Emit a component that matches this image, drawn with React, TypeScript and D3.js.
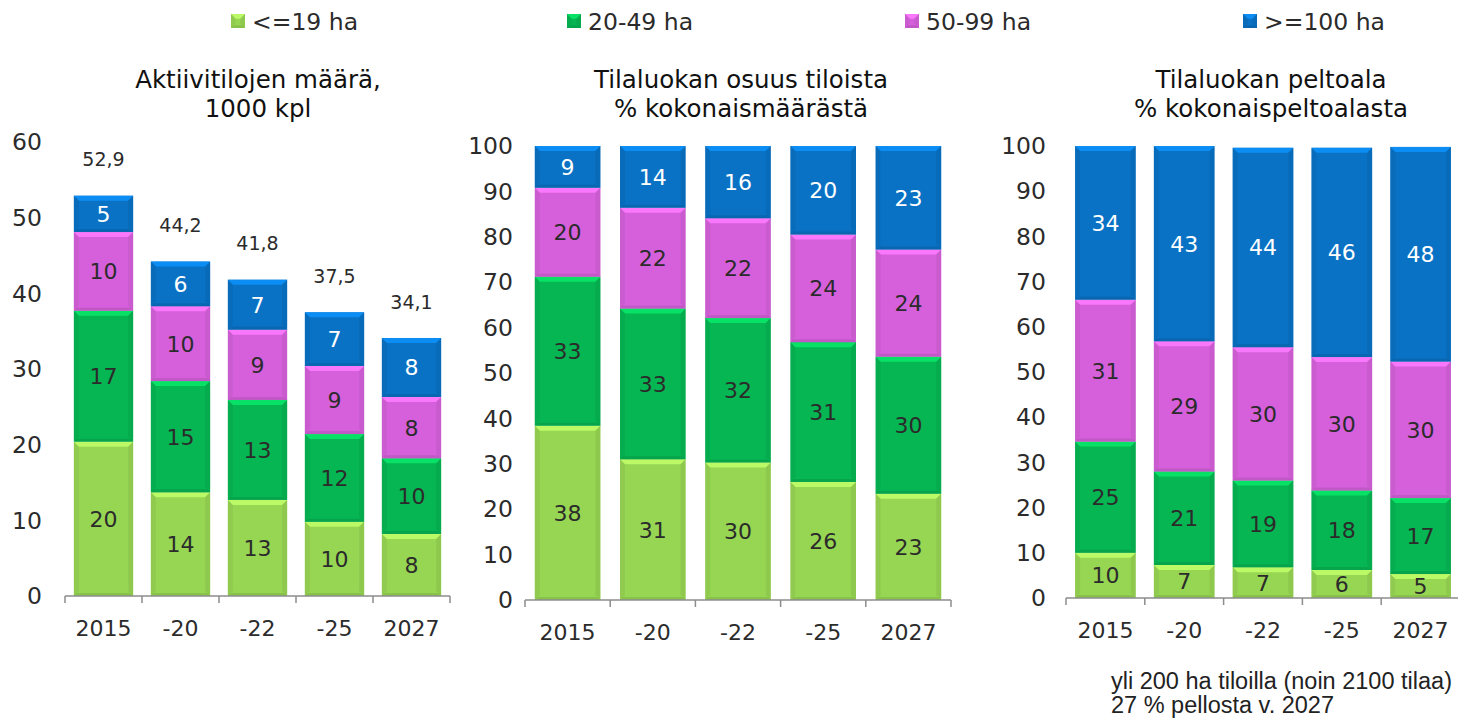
import React from 'react';
import * as d3 from 'd3';

// ---------- data ----------
const classes = ['<=19 ha', '20-49 ha', '50-99 ha', '>=100 ha'];
const classColors = ['#97D653', '#06B653', '#D660DB', '#0A72C4'];
const years = ['2015', '-20', '-22', '-25', '2027'];

// Aktiivitilojen määrä, 1000 kpl
const countSmall = [20.4, 13.7, 12.7, 9.8, 8.2];
const countMid = [17.3, 14.7, 13.2, 11.6, 10.0];
const countLarge = [10.4, 9.9, 9.3, 9.0, 8.1];
const countXL = [4.8, 5.9, 6.6, 7.1, 7.8];
const countTicks = [0, 10, 20, 30, 40, 50, 60];

// Tilaluokan osuus tiloista, %
const shareSmall = [38.4, 31.0, 30.3, 26.0, 23.4];
const shareMid = [32.8, 33.2, 31.8, 30.8, 30.2];
const shareLarge = [19.6, 22.2, 22.0, 23.7, 23.6];
const shareXL = [9.2, 13.6, 15.9, 19.5, 22.8];

// Tilaluokan peltoala, %
const areaSmall = [10.0, 7.3, 6.8, 6.2, 5.3];
const areaMid = [24.6, 20.7, 19.2, 17.6, 16.8];
const areaLarge = [31.4, 28.8, 29.5, 29.5, 30.2];
const areaXL = [34.0, 43.2, 44.1, 46.3, 47.5];
const pctTicks = [0, 10, 20, 30, 40, 50, 60, 70, 80, 90, 100];

const FONT = '"DejaVu Sans", Verdana, sans-serif';
const TXT = '#2b2b2b';

type PanelCfg = {
  series: number[][];
  ticks: number[];
  yMax: number;
  xRange: [number, number];
  yRange: [number, number];
  tickX: number;
  titleX: number;
  title: string[];
  showTotals: boolean;
};

function Seg({ x, y, w, h, color }: { x: number; y: number; w: number; h: number; color: string }) {
  const b = Math.min(5, h / 3);
  const c = d3.color(color)!;
  const light = c.brighter(0.7).formatHex();
  const dark = c.darker(0.6).formatHex();
  return (
    <g>
      <rect x={x} y={y} width={w} height={h} fill={color} />
      <polygon points={`${x},${y} ${x + w},${y} ${x + w - b},${y + b} ${x + b},${y + b}`} fill={light} opacity={0.85} />
      <polygon points={`${x},${y} ${x + b},${y + b} ${x + b},${y + h - b} ${x},${y + h}`} fill={dark} opacity={0.25} />
      <polygon points={`${x + w},${y} ${x + w - b},${y + b} ${x + w - b},${y + h - b} ${x + w},${y + h}`} fill={dark} opacity={0.3} />
      <polygon points={`${x},${y + h} ${x + b * 0.6},${y + h - b * 0.6} ${x + w - b * 0.6},${y + h - b * 0.6} ${x + w},${y + h}`} fill={dark} opacity={0.5} />
    </g>
  );
}

function Panel({ cfg }: { cfg: PanelCfg }) {
  const x = d3.scaleBand<string>().domain(years).range(cfg.xRange).paddingInner(0.23).paddingOuter(0.115);
  const y = d3.scaleLinear().domain([0, cfg.yMax]).range(cfg.yRange);
  const stackData = years.map((yr, i) => {
    const o: any = { year: yr };
    classes.forEach((c, k) => (o[c] = cfg.series[k][i]));
    return o;
  });
  const stacked = d3.stack<any>().keys(classes)(stackData);
  const axisY = cfg.yRange[0];
  const step = x.step();
  const boundaries = d3.range(years.length + 1).map((i) => cfg.xRange[0] + i * step);
  const fmt = (v: number) => d3.format('.1f')(v).replace('.', ',');
  return (
    <g fontFamily={FONT}>
      {cfg.title.map((t, i) => (
        <text key={i} x={cfg.titleX} y={88 + i * 29} textAnchor="middle" fontSize={24.5} fill="#111">
          {t}
        </text>
      ))}
      {cfg.ticks.map((t) => (
        <text key={t} x={cfg.tickX} y={y(t)} dy="0.35em" textAnchor="end" fontSize={23.5} fill={TXT}>
          {t}
        </text>
      ))}
      {stacked.map((layer, k) =>
        layer.map((d, i) => {
          const x0 = x(years[i])!;
          const y0 = y(d[1]);
          const h = y(d[0]) - y(d[1]);
          return (
            <g key={`${k}-${i}`}>
              <Seg x={x0} y={y0} w={x.bandwidth()} h={h} color={classColors[k]} />
              <text
                x={x0 + x.bandwidth() / 2}
                y={y0 + h / 2}
                dy="0.36em"
                textAnchor="middle"
                fontSize={22}
                fill={k === 3 ? '#ffffff' : TXT}
              >
                {Math.round(cfg.series[k][i])}
              </text>
            </g>
          );
        })
      )}
      {cfg.showTotals &&
        years.map((yr, i) => {
          const total = d3.sum(cfg.series, (s) => s[i]);
          return (
            <text key={yr} x={x(yr)! + x.bandwidth() / 2} y={y(total) - 36} dy="0.35em" textAnchor="middle" fontSize={19} fill={TXT}>
              {fmt(total)}
            </text>
          );
        })}
      <line x1={cfg.xRange[0]} x2={cfg.xRange[1]} y1={axisY} y2={axisY} stroke="#8c8c8c" strokeWidth={1.5} />
      {boundaries.map((bx, i) => (
        <line key={i} x1={bx} x2={bx} y1={axisY} y2={axisY + 7} stroke="#8c8c8c" strokeWidth={1.5} />
      ))}
      {years.map((yr) => (
        <text key={yr} x={x(yr)! + x.bandwidth() / 2} y={axisY + 32} dy="0.35em" textAnchor="middle" fontSize={22} fill={TXT}>
          {yr}
        </text>
      ))}
    </g>
  );
}

const panels: PanelCfg[] = [
  {
    series: [countSmall, countMid, countLarge, countXL],
    ticks: countTicks,
    yMax: 60,
    xRange: [65, 450],
    yRange: [596, 142],
    tickX: 42,
    titleX: 258,
    title: ['Aktiivitilojen määrä,', '1000 kpl'],
    showTotals: true,
  },
  {
    series: [shareSmall, shareMid, shareLarge, shareXL],
    ticks: pctTicks,
    yMax: 100,
    xRange: [525, 951],
    yRange: [600, 146],
    tickX: 513,
    titleX: 741,
    title: ['Tilaluokan osuus tiloista', '% kokonaismäärästä'],
    showTotals: false,
  },
  {
    series: [areaSmall, areaMid, areaLarge, areaXL],
    ticks: pctTicks,
    yMax: 100,
    xRange: [1066, 1460],
    yRange: [598, 146],
    tickX: 1046,
    titleX: 1271,
    title: ['Tilaluokan peltoala', '% kokonaispeltoalasta'],
    showTotals: false,
  },
];

const legendX = [231, 567, 905, 1243];

export default function App() {
  return (
    <svg width={1458} height={720} style={{ position: 'absolute', left: 0, top: 0, background: '#fff' }}>
      <rect width={1458} height={720} fill="#fff" />
      <g fontFamily={FONT}>
        {classes.map((c, k) => (
          <g key={c}>
            <Seg x={legendX[k]} y={14} w={14} h={14} color={classColors[k]} />
            <text x={legendX[k] + 21} y={22} dy="0.36em" fontSize={23.5} fill={TXT}>
              {c}
            </text>
          </g>
        ))}
      </g>
      {panels.map((p, i) => (
        <Panel key={i} cfg={p} />
      ))}
      <g fontFamily='"Liberation Sans", Arial, sans-serif' fontSize={23.5} fill="#222">
        <text x={1111} y={689}>yli 200 ha tiloilla (noin 2100 tilaa)</text>
        <text x={1111} y={713}>27 % pellosta v. 2027</text>
      </g>
    </svg>
  );
}
